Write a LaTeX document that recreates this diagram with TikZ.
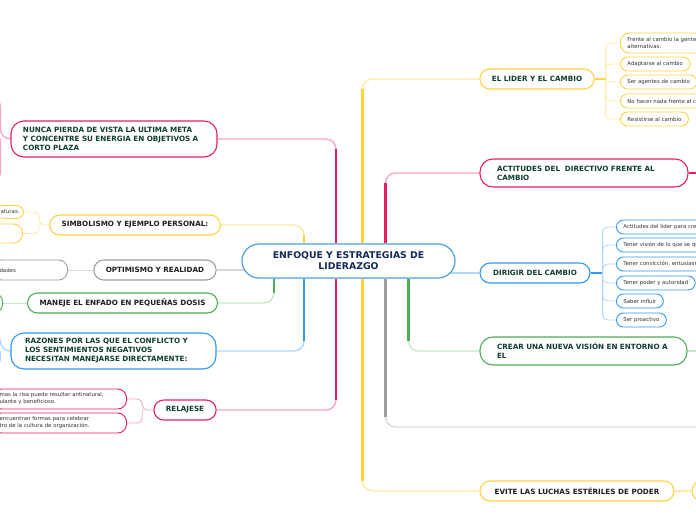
\documentclass[tikz,border=0pt]{standalone}
\usepackage{fontspec}
\setmainfont{DejaVu Sans}
\usetikzlibrary{positioning,backgrounds}
\definecolor{map-yellow}{HTML}{FFD23F}
\definecolor{map-yellowsoft}{HTML}{FFEAA3}
\definecolor{map-red}{HTML}{E91E63}
\definecolor{map-redsoft}{HTML}{F4A6C2}
\definecolor{map-blue}{HTML}{2E9BF0}
\definecolor{map-bluesoft}{HTML}{AFD7F7}
\definecolor{map-green}{HTML}{4CAF50}
\definecolor{map-greensoft}{HTML}{C6E6C7}
\definecolor{map-grey}{HTML}{9E9E9E}
\definecolor{map-greysoft}{HTML}{DADADA}
\definecolor{map-root}{HTML}{4A9FE0}
\definecolor{map-navy}{HTML}{12295A}
\definecolor{map-ink}{HTML}{0F3D30}
\definecolor{map-dark}{HTML}{1E1E1E}
\definecolor{map-leaf}{HTML}{333333}

\tikzset{
  topic/.style={draw, fill=white, line width=1.1pt, rounded corners=10pt,
    minimum height=20pt, inner ysep=0pt, inner xsep=12pt,
    font=\bfseries\fontsize{7.2}{9}\selectfont, text=map-ink},
  topicwide/.style={topic, align=left, rounded corners=13pt, inner xsep=16pt},
  leaf/.style={draw, fill=white, line width=0.9pt, rounded corners=7pt,
    minimum height=14pt, inner ysep=0pt, inner xsep=7pt,
    font=\fontsize{5.4}{7}\selectfont, text=map-leaf, anchor=west},
  leafleft/.style={leaf, anchor=east, align=left, minimum height=20pt, rounded corners=9pt},
  trunk/.style={line width=2.4pt, shorten >=10pt},
  twig/.style={line width=1.4pt, rounded corners=10pt},
  sprig/.style={line width=0.9pt, rounded corners=5pt}
}

\begin{document}
\begin{tikzpicture}[x=1pt,y=-1pt]
  \useasboundingbox (0,0) rectangle (696,520);
  \clip (0,0) rectangle (696,520);

  % Nodo central
  \node[draw=map-root, fill=white, line width=1.2pt, rounded corners=17pt,
    minimum width=213pt, minimum height=34pt, inner sep=0pt, align=center,
    font=\bfseries\fontsize{9.3}{11}\selectfont, text=map-navy]
    (root) at (348.5,261) {ENFOQUE Y ESTRATEGIAS DE\\LIDERAZGO};

  % Ramas a la derecha
  \node[topic, draw=map-yellow, minimum width=114pt] (lider) at (537,79) {EL LIDER Y EL CAMBIO};
  \node[topicwide, draw=map-red, text width=174pt, inner xsep=17pt, minimum height=28pt]
    (actitud) at (584,173) {ACTITUDES DEL\ \ DIRECTIVO FRENTE AL\\CAMBIO};
  \node[topic, draw=map-blue, minimum width=110pt] (dirigir) at (535,273) {DIRIGIR DEL CAMBIO};
  \node[topicwide, draw=map-green, text width=173pt, inner xsep=17pt, minimum height=28pt]
    (crear) at (583.5,351) {CREAR UNA NUEVA VISIÓN EN ENTORNO A\\EL};
  \node[topic, draw=map-yellow, minimum width=194pt, text=map-dark] (evite) at (577,491)
    {EVITE LAS LUCHAS ESTÉRILES DE PODER};
  \node[topic, draw=map-yellow, minimum width=40pt] (evitekid) at (712,491) {};

  % Hojas de "el lider y el cambio"
  \node[leaf, draw=map-yellow, align=left, minimum height=20pt, rounded corners=9pt]
    (cambio1) at (620,43) {Frente al cambio la gente\\alternativas:};
  \foreach \k/\yy/\txt in {2/64/{Adaptarse al cambio},3/82/{Ser agentes de cambio},
      4/101/{No hacer nada frente al cambio},5/119/{Resistirse al cambio}}
    \node[leaf, draw=map-yellow] (cambio\k) at (620,\yy) {\txt};

  % Hojas de "dirigir del cambio"
  \foreach \k/\yy/\txt in {1/227/{Actitudes del líder para crear},2/245/{Tener visión de lo que se quiere},
      3/264/{Tener convicción, entusiasmo},4/283/{Tener poder y autoridad},
      5/301/{Saber influir},6/320/{Ser proactivo}}
    \node[leaf, draw=map-blue] (paso\k) at (616,\yy) {\txt};

  % Ramas a la izquierda
  \node[topicwide, draw=map-red, text width=182pt, inner xsep=12pt, minimum height=36pt] (nunca) at (114,139)
    {NUNCA PIERDA DE VISTA LA ULTIMA META\\Y CONCENTRE SU ENERGIA EN OBJETIVOS A\\CORTO PLAZA};
  \node[topic, draw=map-yellow, minimum width=170pt, text=map-dark] (simbol) at (135,225)
    {SIMBOLISMO Y EJEMPLO PERSONAL:};
  \node[topic, draw=map-grey, minimum width=122pt, text=map-dark] (optim) at (155,270)
    {OPTIMISMO Y REALIDAD};
  \node[topic, draw=map-green, minimum width=187pt, text=map-dark] (enfado) at (122.5,303)
    {MANEJE EL ENFADO EN PEQUEÑAS DOSIS};
  \node[topicwide, draw=map-blue, text width=177pt, inner xsep=14pt, minimum height=36pt] (razones) at (113.5,351)
    {RAZONES POR LAS QUE EL CONFLICTO Y\\LOS SENTIMIENTOS NEGATIVOS\\NECESITAN MANEJARSE DIRECTAMENTE:};
  \node[topic, draw=map-red, minimum width=62pt] (relaj) at (185,410) {RELAJESE};

  % Hojas cortadas por el borde
  \node[leaf, anchor=east, draw=map-yellow, minimum height=13pt, inner xsep=4pt] (simk1) at (24,212) {aturas.};
  \node[leafleft, draw=map-yellow, minimum width=50pt, minimum height=19pt] (simk2) at (23,233.5) {};
  \node[leafleft, draw=map-grey, text width=61pt] (optk) at (68,270) {dades};
  \node[leafleft, draw=map-green, minimum width=40pt] (enfk) at (3,303) {};
  \node[leafleft, draw=map-red, text width=120pt] (relk1) at (127,399)
    {mas la risa puede resultar antinatural,\\ulante y beneficioso.};
  \node[leafleft, draw=map-red, text width=120pt] (relk2) at (127,423)
    {encuentran formas para celebrar\\tro de la cultura de organización.};

  % Puntos de apoyo
  \coordinate (yt) at ([xshift=14pt]root.north);
  \coordinate (yb) at ([xshift=14pt]root.south);
  \coordinate (rt) at ([xshift=37pt]root.north);
  \coordinate (gb) at ([xshift=37pt]root.south);
  \coordinate (vb) at ([xshift=60pt]root.south);
  \coordinate (rl) at ([xshift=-12.5pt]root.north);
  \coordinate (rlb) at ([xshift=-12.5pt]root.south);
  \coordinate (yl) at ([xshift=-44.5pt]root.north);
  \coordinate (bl) at ([xshift=-44.5pt]root.south);
  \coordinate (vl) at ([xshift=-74.5pt]root.south);
  \coordinate (greyend) at (700,427);
  \coordinate (actend) at (700,173);
  \coordinate (crearend) at (700,351);
  \coordinate (liderfork) at ([xshift=11pt]lider.east);
  \coordinate (dirfork) at ([xshift=12pt]dirigir.east);
  \coordinate (nuncafork) at ([xshift=-10pt]nunca.west);
  \coordinate (nuncaup) at (-15,97);
  \coordinate (nuncadown) at (-15,182);
  \coordinate (simfork) at ([xshift=-10pt]simbol.west);
  \coordinate (razfork) at ([xshift=-10pt]razones.west);
  \coordinate (razup) at (-15,333);
  \coordinate (razdown) at (-15,368);
  \coordinate (relfork) at ([xshift=-11pt]relaj.west);

  \begin{pgfonlayer}{background}
    % Conectores del centro a la derecha
    \draw[twig, map-yellowsoft] (yt) |- (lider.west);
    \draw[trunk, map-yellow] (yt) -- (yt |- lider.west);
    \draw[twig, map-yellowsoft] (yb) |- (evite.west);
    \draw[trunk, map-yellow] (yb) -- (yb |- evite.west);
    \draw[twig, map-redsoft] (rt) |- (actitud.west);
    \draw[trunk, map-red] (rt) -- (rt |- actitud.west);
    \draw[twig, map-greysoft] (gb) |- (greyend);
    \draw[trunk, map-grey] (gb) -- (gb |- greyend);
    \draw[twig, map-greensoft] (vb) |- (crear.west);
    \draw[trunk, map-green] (vb) -- (vb |- crear.west);
    \draw[twig, map-bluesoft] (root.center |- dirigir.west) -- (dirigir.west);
    \draw[twig, map-red] (actitud.east) -- (actend);
    \draw[twig, map-greensoft] (crear.east) -- (crearend);
    \draw[twig, map-yellowsoft] (evite.east) -- (evitekid.west);

    % Conectores del centro a la izquierda
    \draw[twig, map-redsoft] (rl) |- (nunca.east);
    \draw[trunk, map-red] (rl) -- (rl |- nunca.east);
    \draw[twig, map-redsoft] (rlb) |- (relaj.east);
    \draw[trunk, map-red] (rlb) -- (rlb |- relaj.east);
    \draw[twig, map-yellowsoft] (yl) |- (simbol.east);
    \draw[trunk, map-yellow] (yl) -- (yl |- simbol.east);
    \draw[twig, map-bluesoft] (bl) |- (razones.east);
    \draw[trunk, map-blue] (bl) -- (bl |- razones.east);
    \draw[twig, map-greensoft] (vl) |- (enfado.east);
    \draw[trunk, map-green] (vl) -- (vl |- enfado.east);
    \draw[twig, map-greysoft] (root.center |- optim.east) -- (optim.east);

    % Horquillas hacia las hojas
    \draw[line width=1.8pt, map-yellow] (lider.east) -- (liderfork);
    \foreach \k in {1,...,5}
      \draw[sprig, map-yellowsoft] (liderfork) |- (cambio\k.west);
    \draw[line width=1.8pt, map-blue] (dirigir.east) -- (dirfork);
    \foreach \k in {1,...,6}
      \draw[sprig, map-bluesoft] (dirfork) |- (paso\k.west);
    \draw[twig, map-redsoft] (nunca.west) -- (nuncafork) |- (nuncaup);
    \draw[twig, map-redsoft] (nuncafork) |- (nuncadown);
    \draw[twig, map-bluesoft] (razones.west) -- (razfork) |- (razup);
    \draw[twig, map-bluesoft] (razfork) |- (razdown);
    \draw[sprig, map-yellowsoft] (simbol.west) -- (simfork) |- (simk1.east);
    \draw[sprig, map-yellowsoft] (simfork) |- (simk2.east);
    \draw[sprig, map-redsoft] (relaj.west) -- (relfork) |- (relk1.east);
    \draw[sprig, map-redsoft] (relfork) |- (relk2.east);
    \draw[sprig, map-greysoft] (optim.west) -- (optk.east);
    \draw[sprig, map-greensoft] (enfado.west) -- (enfk.east);
  \end{pgfonlayer}
\end{tikzpicture}
\end{document}
